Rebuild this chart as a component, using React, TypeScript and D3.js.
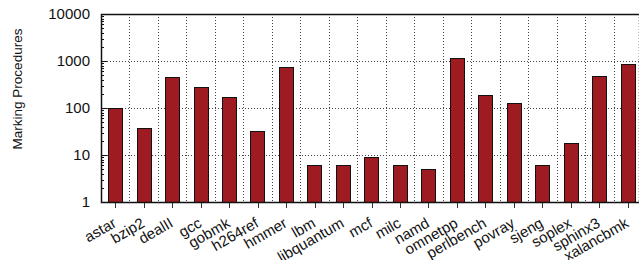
import React, { useEffect, useRef } from "react";
import * as d3 from "d3";

const benchmarks = [
  "astar", "bzip2", "dealII", "gcc", "gobmk", "h264ref", "hmmer", "lbm",
  "libquantum", "mcf", "milc", "namd", "omnetpp", "perlbench", "povray",
  "sjeng", "soplex", "sphinx3", "xalancbmk",
];
const procedures = [
  98, 38, 450, 276, 169, 33, 745, 6, 6, 8.9, 6, 5, 1140, 186, 126, 6, 18, 487, 850,
];
const yTicks = [1, 10, 100, 1000, 10000];

const App = () => {
  const svgRef = useRef<SVGSVGElement>(null);
  const width = 639;
  const height = 260;
  const margin = { top: 14, right: -3, bottom: 58, left: 101 };
  const font = "Liberation Sans, Arial, sans-serif";

  useEffect(() => {
    const svgEl = d3.select(svgRef.current);
    svgEl.selectAll("*").remove();

    const x = d3
      .scaleBand()
      .domain(benchmarks)
      .range([margin.left, width - margin.right])
      .paddingInner(0)
      .paddingOuter(0);

    const y = d3
      .scaleLog()
      .domain([1, 10000])
      .range([height - margin.bottom, margin.top]);

    const top = margin.top;
    const bottom = height - margin.bottom;
    const left = margin.left;
    const right = width - margin.right;

    // grid
    const grid = svgEl.append("g").attr("stroke", "#444").attr("stroke-width", 1).attr("stroke-dasharray", "1,2");
    grid
      .selectAll("line.h")
      .data(yTicks.slice(1, -1))
      .join("line")
      .attr("x1", left)
      .attr("x2", right)
      .attr("y1", (d) => Math.round(y(d)) + 0.5)
      .attr("y2", (d) => Math.round(y(d)) + 0.5);
    grid
      .selectAll("line.v")
      .data(benchmarks.slice(1))
      .join("line")
      .attr("x1", (d) => Math.round(x(d)!) + 0.5)
      .attr("x2", (d) => Math.round(x(d)!) + 0.5)
      .attr("y1", top)
      .attr("y2", bottom);
    grid
      .append("line")
      .attr("x1", right - 3.5)
      .attr("x2", right - 3.5)
      .attr("y1", top)
      .attr("y2", bottom)
      .attr("stroke", "#bbb");

    // bars
    const bw = x.bandwidth() * 0.5;
    svgEl
      .append("g")
      .attr("fill", "#9e1b21")
      .attr("stroke", "#111")
      .attr("stroke-width", 1)
      .selectAll("rect")
      .data(procedures)
      .join("rect")
      .attr("x", (d, i) => Math.round(x(benchmarks[i])! + x.bandwidth() / 2 - bw / 2) + 0.5)
      .attr("y", (d) => Math.round(y(d)) + 0.5)
      .attr("width", Math.round(bw))
      .attr("height", (d) => Math.round(y(1)) - Math.round(y(d)));

    // y axis with minor ticks
    const minor: number[] = [];
    for (let e = 0; e < 4; e++) for (let m = 2; m < 10; m++) minor.push(m * Math.pow(10, e));
    const ax = svgEl.append("g").attr("stroke", "#111");
    ax.selectAll("line.mj")
      .data(yTicks)
      .join("line")
      .attr("x1", left)
      .attr("x2", left + 6)
      .attr("y1", (d) => Math.round(y(d)) + 0.5)
      .attr("y2", (d) => Math.round(y(d)) + 0.5);
    ax.append("g")
      .selectAll("line")
      .data(minor)
      .join("line")
      .attr("x1", left)
      .attr("x2", left + 3)
      .attr("y1", (d) => Math.round(y(d)) + 0.5)
      .attr("y2", (d) => Math.round(y(d)) + 0.5);

    svgEl
      .append("g")
      .selectAll("text")
      .data(yTicks)
      .join("text")
      .attr("x", left - 11)
      .attr("y", (d) => y(d) + 5)
      .attr("text-anchor", "end")
      .attr("font-family", font)
      .attr("font-size", 15)
      .attr("fill", "#111")
      .text((d) => String(d));

    // x ticks
    svgEl
      .append("g")
      .attr("stroke", "#333")
      .selectAll("line")
      .data(benchmarks)
      .join("line")
      .attr("x1", (d) => Math.round(x(d)! + x.bandwidth() / 2) + 0.5)
      .attr("x2", (d) => Math.round(x(d)! + x.bandwidth() / 2) + 0.5)
      .attr("y1", bottom)
      .attr("y2", bottom + 6);

    svgEl
      .append("g")
      .selectAll("text")
      .data(benchmarks)
      .join("text")
      .attr("transform", (d) => `translate(${x(d)! + x.bandwidth() / 2 + 2},${bottom + 24}) rotate(-30)`)
      .attr("text-anchor", "end")
      .attr("font-family", font)
      .attr("font-size", 15)
      .attr("fill", "#111")
      .text((d) => d);

    // frame
    svgEl
      .append("path")
      .attr("d", `M${right},${top + 0.5}H${left + 0.5}V${bottom + 0.5}H${right}`)
      .attr("fill", "none")
      .attr("stroke", "#111")
      .attr("stroke-width", 1.5);

    svgEl
      .append("text")
      .attr("transform", `translate(22,89) rotate(-90)`)
      .attr("text-anchor", "middle")
      .attr("font-family", font)
      .attr("font-size", 13.5)
      .attr("fill", "#111")
      .text("Marking Procedures");
  }, []);

  return (
    <svg
      ref={svgRef}
      width={width}
      height={height}
      style={{ position: "absolute", left: 0, top: 0, background: "#fff" }}
    />
  );
};

export default App;
